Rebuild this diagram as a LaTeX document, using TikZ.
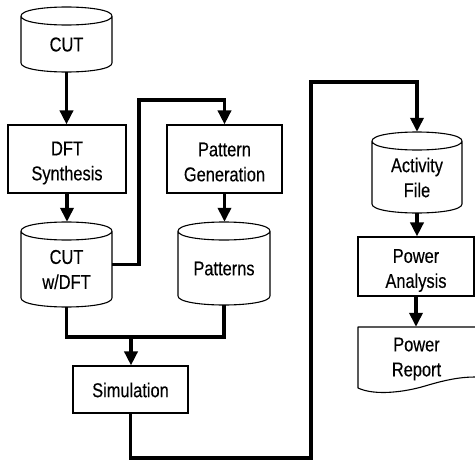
\documentclass[tikz,border=0pt]{standalone}
\usepackage{fontspec}
\setmainfont{Liberation Sans}[FakeStretch=0.82,FakeBold=0.3]
\usetikzlibrary{arrows.meta,calc}
\tikzset{
  txt/.style={font=\fontsize{20}{25}\selectfont, align=center, inner sep=0pt},
  shp/.style={line width=1.1pt, line join=round},
  boxnode/.style={draw, line width=1.1pt, inner sep=0pt},
  conn/.style={line width=3.6pt, line join=miter},
  arr/.style={conn, -{Triangle[width=13pt,length=14pt]}}
}
\newcommand\cylshape[6]{%
  \pgfmathsetmacro\cxv{(#2+#3)/2}\pgfmathsetmacro\cyv{(#4+#5)/2}
  \pgfmathsetmacro\wv{#3-#2}\pgfmathsetmacro\hv{#5-#4}
  \pgfmathsetmacro\yav{#4+9}\pgfmathsetmacro\ybv{#5-9}
  \pgfmathsetmacro\ycv{#4+9-12}\pgfmathsetmacro\ydv{#4+9+12}\pgfmathsetmacro\yev{#5-9+12}
  \pgfmathsetmacro\ytv{\cyv+5}
  \node[inner sep=0pt, minimum width=\wv pt, minimum height=\hv pt] (#1) at (\cxv,\cyv) {};
  \node[txt] (#1-t) at (\cxv,\ytv) {#6};
  \draw[shp] (#2,\yav) .. controls (#2,\ycv) and (#3,\ycv) .. (#3,\yav)
     .. controls (#3,\ydv) and (#2,\ydv) .. (#2,\yav) -- (#2,\ybv)
     .. controls (#2,\yev) and (#3,\yev) .. (#3,\ybv) -- (#3,\yav);
}
% name, cx, cy, w, h, text offset, text
\newcommand\boxshape[7]{%
  \pgfmathsetmacro\ytv{#3+#6}
  \node[boxnode, minimum width=#4pt, minimum height=#5pt] (#1) at (#2,#3) {};
  \node[txt] (#1-t) at (#2,\ytv) {#7};
}
\begin{document}
\begin{tikzpicture}[x=1pt,y=-1pt]
\useasboundingbox (0,0) rectangle (475,461);
% cylinders
\cylshape{cut}{21}{112}{7}{72}{CUT}
\cylshape{cutdft}{21}{112}{222}{307}{CUT\\w/DFT}
\cylshape{pat}{178}{270}{222}{305}{Patterns}
\cylshape{act}{372}{462}{132}{213}{Activity\\File}
% boxes
\boxshape{dft}{67}{159}{118}{68}{4}{DFT\\Synthesis}
\boxshape{pg}{224.5}{159}{115}{68}{3}{Pattern\\Generation}
\boxshape{sim}{130.5}{389.5}{115}{47}{0.5}{Simulation}
\boxshape{pa}{416}{266.5}{116}{59}{4}{Power\\Analysis}
% document shape
\node[minimum width=117pt, minimum height=60pt, inner sep=0pt] (pr) at (416.5,357) {};
\node[txt] (pr-t) at (416.5,359) {Power\\Report};
\draw[shp] (475,327) -- (358,327) -- (358,388)
  .. controls (375,396) and (405,392) .. (425,386)
  .. controls (445,380) and (460,377) .. (475,377);
% connectors
\coordinate (j1) at (139,100);
\coordinate (m) at (131,337);
\coordinate (b1) at (311,458);
\coordinate (t1) at (311,82);
\draw[arr] (cut.south) -- (cut.south |- dft.north);
\draw[arr] (dft.south) -- (dft.south |- cutdft.north);
\draw[arr] (cutdft.east) -| (j1) -| (pg.north);
\draw[arr] (pg.south) -- (pg.south |- pat.north);
\draw[conn] (cutdft.south) |- (m) -| (pat.south);
\draw[arr] (m) -- (m |- sim.north);
\draw[arr] (sim.south) |- (b1) -- (t1) -| (act.north);
\draw[arr] (act.south) -- (act.south |- pa.north);
\draw[arr] (pa.south) -- (pa.south |- pr.north);
\end{tikzpicture}
\end{document}
